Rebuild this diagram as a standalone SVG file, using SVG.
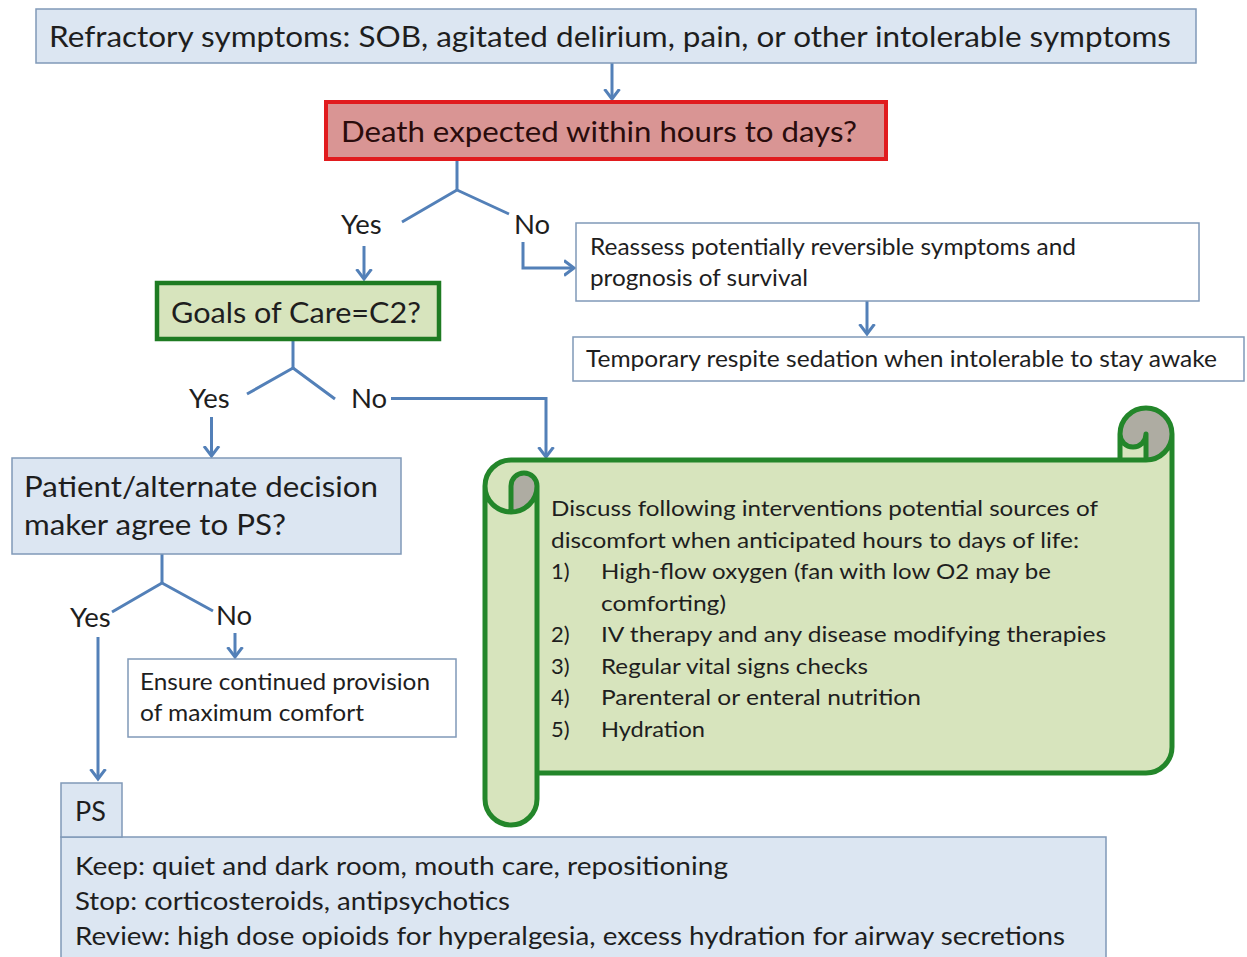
<svg xmlns="http://www.w3.org/2000/svg" width="1247" height="957" viewBox="0 0 1247 957">
<defs>
<style>
.t{font-family:Lato,"Liberation Sans",sans-serif;fill:#1e1e1e}
.blue{fill:#dce6f2;stroke:#8099b8;stroke-width:1.5}
.white{fill:#ffffff;stroke:#8099b8;stroke-width:1.5}
.ln{fill:none;stroke:#5380b8;stroke-width:3;stroke-linejoin:round}
.arr{fill:none;stroke:#5380b8;stroke-width:3;marker-end:url(#ah)}
</style>
<marker id="ah" markerUnits="userSpaceOnUse" viewBox="0 0 20 20" markerWidth="20" markerHeight="20" refX="10" refY="10" orient="auto">
<path d="M0 2.5 L10 10 L0 17.5" fill="none" stroke="#5380b8" stroke-width="3"/>
</marker>
</defs>
<rect width="1247" height="957" fill="#ffffff"/>

<g id="connectors">
<line class="arr" x1="612" y1="63" x2="612" y2="99"/>
<line class="ln" x1="457" y1="160" x2="457" y2="190"/>
<polyline class="ln" points="402,222 457,190 509,214"/>
<line class="arr" x1="364" y1="246" x2="364" y2="279"/>
<polyline class="arr" points="523,242 523,268 574,268"/>
<line class="arr" x1="867" y1="301" x2="867" y2="334"/>
<line class="ln" x1="293" y1="339" x2="293" y2="368"/>
<polyline class="ln" points="247,394 293,368 335,399"/>
<line class="arr" x1="211.5" y1="417" x2="211.5" y2="456"/>
<polyline class="arr" points="391,398.5 546,398.5 546,457"/>
<line class="ln" x1="162" y1="554" x2="162" y2="583"/>
<polyline class="ln" points="112,612 162,583 213,611"/>
<line class="arr" x1="235" y1="633" x2="235" y2="657"/>
<line class="arr" x1="98" y1="637" x2="98" y2="779"/>
</g>

<g id="refractory">
<rect class="blue" x="36" y="9" width="1160" height="54"/>
<text class="t" x="49" y="47" font-size="28" textLength="1122" lengthAdjust="spacingAndGlyphs">Refractory symptoms: SOB, agitated delirium, pain, or other intolerable symptoms</text>
</g>

<g id="death">
<rect x="326" y="102" width="560" height="57" fill="#d99594" stroke="#e11b1e" stroke-width="4"/>
<text class="t" x="341" y="142" font-size="28.5" textLength="516" lengthAdjust="spacingAndGlyphs" style="fill:#2a0c0c">Death expected within hours to days?</text>
</g>

<g id="labels1">
<text class="t" x="341" y="234" font-size="27.5">Yes</text>
<text class="t" x="514" y="234" font-size="27.5">No</text>
</g>

<g id="goals">
<rect x="157" y="283" width="282" height="56" fill="#d7e4bd" stroke="#1e7b22" stroke-width="4.5"/>
<text class="t" x="171" y="323" font-size="28.5" textLength="250" lengthAdjust="spacingAndGlyphs">Goals of Care=C2?</text>
</g>

<g id="reassess">
<rect class="white" x="576" y="223" width="623" height="78"/>
<text class="t" x="590" y="255" font-size="23" textLength="486" lengthAdjust="spacingAndGlyphs">Reassess potentially reversible symptoms and</text>
<text class="t" x="590" y="286" font-size="23" textLength="218" lengthAdjust="spacingAndGlyphs">prognosis of survival</text>
</g>

<g id="temporary">
<rect class="white" x="573" y="337" width="671" height="44"/>
<text class="t" x="586" y="367" font-size="23" textLength="631" lengthAdjust="spacingAndGlyphs">Temporary respite sedation when intolerable to stay awake</text>
</g>

<g id="labels2">
<text class="t" x="189" y="408" font-size="27.5">Yes</text>
<text class="t" x="351" y="408" font-size="27.5">No</text>
</g>

<g id="patient">
<rect class="blue" x="12" y="458" width="389" height="96"/>
<text class="t" x="24" y="497" font-size="28" textLength="354" lengthAdjust="spacingAndGlyphs">Patient/alternate decision</text>
<text class="t" x="24" y="535" font-size="28" textLength="262" lengthAdjust="spacingAndGlyphs">maker agree to PS?</text>
</g>

<g id="labels3">
<text class="t" x="70" y="627" font-size="27.5">Yes</text>
<text class="t" x="216" y="625" font-size="27.5">No</text>
</g>

<g id="ensure">
<rect class="white" x="128" y="659" width="328" height="78"/>
<text class="t" x="140" y="690" font-size="22.5" textLength="290" lengthAdjust="spacingAndGlyphs">Ensure continued provision</text>
<text class="t" x="140" y="721" font-size="22.5" textLength="224" lengthAdjust="spacingAndGlyphs">of maximum comfort</text>
</g>

<g id="scroll">
<path d="M1172 434 A26 26 0 0 1 1146 460 L1146 434 A13 13 0 0 1 1120 434 L1120 460 L511 460 A26 26 0 0 0 485 486 L485 799 A26 26 0 0 0 537 799 L537 773 L1146 773 A26 26 0 0 0 1172 747 Z" fill="#d7e4bd"/>
<path d="M511 512 A26 26 0 0 0 537 486 A13 13 0 0 0 511 486 Z M1146 460 A26 26 0 1 0 1120 434 A13 13 0 0 0 1146 434 Z" fill="#aeaca2"/>
<path d="M485 486 A26 26 0 0 1 511 460 L1120 460 L1120 434 A26 26 0 0 1 1172 434 L1172 747 A26 26 0 0 1 1146 773 L537 773 L537 799 A26 26 0 0 1 485 799 Z M1120 460 L1146 460 A26 26 0 0 0 1172 434 M1146 460 L1146 434 A13 13 0 0 1 1120 434 M511 512 L511 486 A13 13 0 0 1 537 486 A26 26 0 0 1 485 486 M537 486 L537 773" fill="none" stroke="#23862a" stroke-width="5" stroke-linejoin="round"/>
<text class="t" x="551" y="516" font-size="22" textLength="547" lengthAdjust="spacingAndGlyphs">Discuss following interventions potential sources of</text>
<text class="t" x="551" y="547.5" font-size="22" textLength="528" lengthAdjust="spacingAndGlyphs">discomfort when anticipated hours to days of life:</text>
<text class="t" x="551" y="579" font-size="22">1)</text>
<text class="t" x="601" y="579" font-size="22" textLength="450" lengthAdjust="spacingAndGlyphs">High-flow oxygen (fan with low O2 may be</text>
<text class="t" x="601" y="610.5" font-size="22" textLength="125" lengthAdjust="spacingAndGlyphs">comforting)</text>
<text class="t" x="551" y="642" font-size="22">2)</text>
<text class="t" x="601" y="642" font-size="22" textLength="505" lengthAdjust="spacingAndGlyphs">IV therapy and any disease modifying therapies</text>
<text class="t" x="551" y="673.5" font-size="22">3)</text>
<text class="t" x="601" y="673.5" font-size="22" textLength="267" lengthAdjust="spacingAndGlyphs">Regular vital signs checks</text>
<text class="t" x="551" y="705" font-size="22">4)</text>
<text class="t" x="601" y="705" font-size="22" textLength="320" lengthAdjust="spacingAndGlyphs">Parenteral or enteral nutrition</text>
<text class="t" x="551" y="736.5" font-size="22">5)</text>
<text class="t" x="601" y="736.5" font-size="22" textLength="104" lengthAdjust="spacingAndGlyphs">Hydration</text>
</g>

<g id="ps">
<rect class="blue" x="61" y="837" width="1045" height="130"/>
<rect class="blue" x="61" y="783" width="61" height="54"/>
<text class="t" x="75" y="821" font-size="27">PS</text>
<text class="t" x="75" y="875" font-size="25.5" textLength="653" lengthAdjust="spacingAndGlyphs">Keep: quiet and dark room, mouth care, repositioning</text>
<text class="t" x="75" y="910" font-size="25.5" textLength="435" lengthAdjust="spacingAndGlyphs">Stop: corticosteroids, antipsychotics</text>
<text class="t" x="75" y="945" font-size="25.5" textLength="990" lengthAdjust="spacingAndGlyphs">Review: high dose opioids for hyperalgesia, excess hydration for airway secretions</text>
</g>
</svg>
